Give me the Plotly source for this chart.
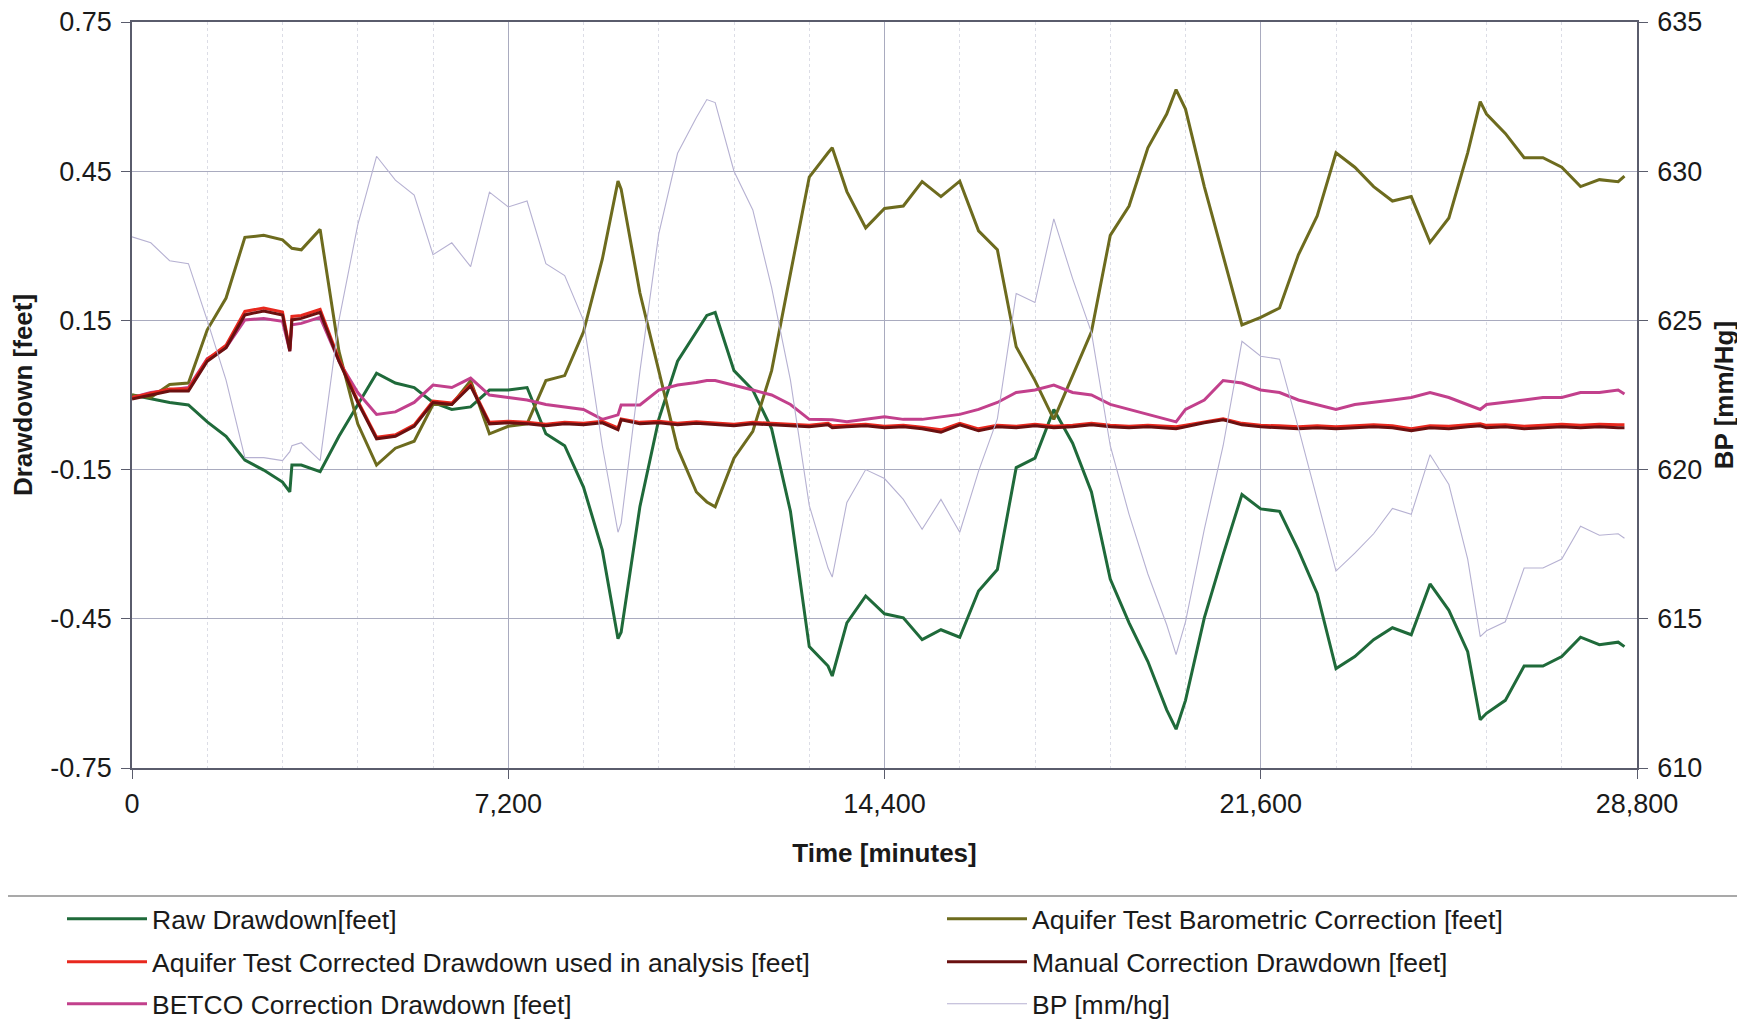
import plotly.graph_objects as go

# ---------------- data ----------------
time_min = [0, 360, 720, 1080, 1440, 1800, 2160, 2520, 2880,
            3020, 3060,
            3240, 3600, 3960, 4320, 4680, 5040, 5400, 5760, 6120, 6480, 6840, 7200, 7560, 7920, 8280, 8640, 9000,
            9300,
            9360, 9720, 10080, 10440, 10800,
            11000,
            11160, 11520, 11880, 12240, 12600, 12960, 13320,
            13400,
            13680, 14040, 14400, 14760, 15120, 15480, 15840, 16200, 16560, 16920, 17280, 17640, 18000, 18360, 18720, 19080, 19440, 19800,
            19980,
            20160, 20520, 20880, 21240, 21600, 21960, 22320, 22680, 23040, 23400, 23760, 24120, 24480, 24840, 25200, 25560,
            25800,
            25920, 26280, 26640, 27000, 27360, 27720, 28080, 28440,
            28560]

raw_drawdown = [0.0, -0.008, -0.015, -0.02, -0.054, -0.083, -0.131, -0.151, -0.175,
                -0.195, -0.141,
                -0.141, -0.154, -0.083, -0.019, 0.044, 0.024, 0.015, -0.015, -0.029, -0.024, 0.01, 0.01, 0.015, -0.078, -0.102, -0.185, -0.312,
                -0.49,
                -0.477, -0.224, -0.049, 0.068, 0.127,
                0.16,
                0.166, 0.049, 0.01, -0.068, -0.234, -0.506, -0.545,
                -0.565,
                -0.458, -0.404, -0.44, -0.448, -0.492, -0.472, -0.487, -0.394, -0.351, -0.146, -0.127, -0.029, -0.097, -0.195, -0.37, -0.458, -0.536, -0.633,
                -0.672,
                -0.614, -0.448, -0.321, -0.2, -0.229, -0.234, -0.312, -0.399, -0.55, -0.526, -0.492, -0.468, -0.482, -0.38, -0.433, -0.516,
                -0.653,
                -0.64, -0.614, -0.545, -0.545, -0.526, -0.487, -0.502, -0.497,
                -0.506]

baro_correction = [0.0, -0.005, 0.021, 0.024, 0.131, 0.195, 0.317, 0.321, 0.312,
                   0.30, 0.295,
                   0.292, 0.333, 0.088, -0.058, -0.141, -0.107, -0.093, -0.019, -0.019, 0.029, -0.078, -0.063, -0.058, 0.029, 0.039, 0.127, 0.273,
                   0.43,
                   0.414, 0.205, 0.049, -0.107, -0.195,
                   -0.215,
                   -0.225, -0.127, -0.073, 0.049, 0.244, 0.438, 0.487,
                   0.497,
                   0.409, 0.336, 0.375, 0.38, 0.429, 0.399, 0.43, 0.33, 0.292, 0.097, 0.029, -0.049, 0.039, 0.127, 0.321, 0.38, 0.497, 0.565,
                   0.614,
                   0.575, 0.419, 0.282, 0.141, 0.156, 0.175, 0.282, 0.36, 0.487, 0.458, 0.419, 0.39, 0.399, 0.307, 0.356, 0.487,
                   0.59,
                   0.565, 0.526, 0.477, 0.477, 0.458, 0.419, 0.433, 0.429,
                   0.44]

aquifer_corrected = [-0.005, 0.003, 0.012, 0.012, 0.072, 0.1, 0.168, 0.175, 0.167,
                     0.092, 0.158,
                     0.16, 0.172, 0.072, -0.012, -0.085, -0.08, -0.06, -0.012, -0.016, 0.021, -0.055, -0.053, -0.055, -0.059, -0.055, -0.057, -0.053,
                     -0.066,
                     -0.048, -0.055, -0.053, -0.057, -0.054,
                     -0.055,
                     -0.057, -0.059, -0.055, -0.057, -0.059, -0.061, -0.057,
                     -0.062,
                     -0.061, -0.059, -0.063, -0.061, -0.065, -0.07, -0.057, -0.068, -0.061, -0.063, -0.059, -0.063, -0.061, -0.057, -0.061, -0.063, -0.061, -0.063,
                     -0.064,
                     -0.061, -0.054, -0.048, -0.057, -0.061, -0.062, -0.064, -0.062, -0.064, -0.062, -0.06, -0.062, -0.068, -0.062, -0.063, -0.06,
                     -0.058,
                     -0.061, -0.06, -0.063, -0.061, -0.059, -0.061, -0.059, -0.06,
                     -0.06]

manual_correction = [-0.008, 0.0, 0.008, 0.008, 0.068, 0.095, 0.161, 0.169, 0.161,
                     0.088, 0.151,
                     0.154, 0.166, 0.068, -0.015, -0.088, -0.083, -0.063, -0.015, -0.019, 0.018, -0.058, -0.056, -0.058, -0.062, -0.058, -0.06, -0.056,
                     -0.07,
                     -0.05, -0.058, -0.056, -0.06, -0.057,
                     -0.058,
                     -0.06, -0.062, -0.058, -0.06, -0.062, -0.064, -0.06,
                     -0.066,
                     -0.064, -0.062, -0.066, -0.064, -0.068, -0.075, -0.06, -0.072, -0.064, -0.066, -0.062, -0.066, -0.064, -0.06, -0.064, -0.066, -0.064, -0.066,
                     -0.068,
                     -0.064, -0.056, -0.05, -0.06, -0.064, -0.066, -0.068, -0.066, -0.068, -0.066, -0.064, -0.066, -0.072, -0.066, -0.068, -0.064,
                     -0.062,
                     -0.066, -0.064, -0.068, -0.066, -0.064, -0.066, -0.064, -0.066,
                     -0.066]

betco_correction = [-0.005, 0.005, 0.01, 0.015, 0.073, 0.095, 0.151, 0.154, 0.148,
                    0.088, 0.141,
                    0.144, 0.156, 0.068, 0.005, -0.039, -0.034, -0.015, 0.02, 0.015, 0.034, 0.0, -0.005, -0.01, -0.019, -0.024, -0.029, -0.049,
                    -0.04,
                    -0.02, -0.02, 0.01, 0.02, 0.025,
                    0.029,
                    0.029, 0.02, 0.01, 0.0, -0.019, -0.049, -0.049,
                    -0.05,
                    -0.054, -0.049, -0.044, -0.049, -0.049, -0.044, -0.039, -0.029, -0.015, 0.005, 0.01, 0.02, 0.005, 0.0, -0.019, -0.029, -0.039, -0.049,
                    -0.054,
                    -0.029, -0.01, 0.029, 0.024, 0.01, 0.005, -0.01, -0.019, -0.029, -0.019, -0.015, -0.01, -0.005, 0.005, -0.005, -0.019,
                    -0.029,
                    -0.019, -0.015, -0.01, -0.005, -0.005, 0.005, 0.005, 0.01,
                    0.002]

bp_mmhg = [627.8, 627.6, 627.0, 626.9, 625.0, 623.0, 620.4, 620.4, 620.3,
           620.6, 620.8,
           620.9, 620.3, 625.0, 628.2, 630.5, 629.7, 629.2, 627.2, 627.6, 626.8, 629.3, 628.8, 629.0, 626.9, 626.5, 625.0, 620.8,
           617.9,
           618.2, 623.3, 627.9, 630.6, 631.8,
           632.4,
           632.3, 630.0, 628.7, 626.1, 623.0, 618.8, 616.7,
           616.4,
           618.9, 620.0, 619.7, 619.0, 618.0, 619.0, 617.9, 619.95, 621.7, 625.9, 625.6, 628.4, 626.4, 624.6, 620.8, 618.5, 616.5, 614.8,
           613.8,
           614.9, 618.0, 620.8, 624.3, 623.8, 623.7, 621.4, 619.0, 616.6, 617.2, 617.85, 618.7, 618.5, 620.5, 619.5, 617.0,
           614.4,
           614.6, 614.9, 616.7, 616.7, 617.0, 618.1, 617.8, 617.85,
           617.7]

x_tickvals = [0, 7200, 14400, 21600, 28800]
x_ticktext = ["0", "7,200", "14,400", "21,600", "28,800"]
y_tickvals = [-0.75, -0.45, -0.15, 0.15, 0.45, 0.75]
y_ticktext = ["-0.75", "-0.45", "-0.15", "0.15", "0.45", "0.75"]
y2_tickvals = [610, 615, 620, 625, 630, 635]

for s in (raw_drawdown, baro_correction, aquifer_corrected, manual_correction, betco_correction, bp_mmhg):
    assert len(s) == len(time_min), len(s)

# ---------------- figure ----------------
FONT = "Liberation Sans, Arial, sans-serif"
OFF = 8                       # page body margin in the browser
W, H = 1737, 1014
ML, MR, MT, MB = 124, 108, 14, 254
PW, PH = W - ML - MR, H - MT - MB

def sy(py):  # screen pixel y -> paper
    return (H - MB - (py - OFF)) / PH

def sx(px):  # screen pixel x -> paper
    return (px - OFF - ML) / PW

fig = go.Figure()

fig.add_trace(go.Scatter(x=time_min, y=bp_mmhg, name="BP [mm/hg]", yaxis="y2", mode="lines",
                         line=dict(color="#b6b1d2", width=1.1), legend="legend6"))
fig.add_trace(go.Scatter(x=time_min, y=raw_drawdown, name="Raw Drawdown[feet]", mode="lines",
                         line=dict(color="#1f6a3a", width=3), legend="legend"))
fig.add_trace(go.Scatter(x=time_min, y=baro_correction, name="Aquifer Test Barometric Correction [feet]", mode="lines",
                         line=dict(color="#6d6b1e", width=3), legend="legend2"))
fig.add_trace(go.Scatter(x=time_min, y=betco_correction, name="BETCO Correction Drawdown [feet]", mode="lines",
                         line=dict(color="#c2408c", width=3), legend="legend5"))
fig.add_trace(go.Scatter(x=time_min, y=aquifer_corrected, name="Aquifer Test Corrected Drawdown used in analysis [feet]", mode="lines",
                         line=dict(color="#e8281e", width=3), legend="legend3"))
fig.add_trace(go.Scatter(x=time_min, y=manual_correction, name="Manual Correction Drawdown [feet]", mode="lines",
                         line=dict(color="#6a1010", width=3), legend="legend4"))

grid_col = "#a9abbf"
axis_col = "#5a5c6c"
tick_font = dict(family=FONT, size=27, color="#1a1a1a")
title_font = dict(family=FONT, size=26, color="#1a1a1a", weight="bold")
legend_font = dict(family=FONT, size=26.5, color="#1a1a1a")

def legend_at(px, py):
    return dict(orientation="h", x=sx(px), xanchor="left", y=sy(py), yanchor="middle",
                font=legend_font, bgcolor="rgba(0,0,0,0)", itemwidth=80, visible=True)

COL1, COL2 = 62, 942
ROW1, ROW2, ROW3 = 919, 962, 1004

fig.update_layout(
    width=W, height=H,
    showlegend=True,
    margin=dict(l=ML, r=MR, t=MT, b=MB, autoexpand=False),
    paper_bgcolor="white", plot_bgcolor="white",
    font=dict(family=FONT, color="#1a1a1a"),
    xaxis=dict(range=[0, 28800], tickmode="array", tickvals=x_tickvals, ticktext=x_ticktext,
               tickfont=tick_font, showgrid=True, gridcolor=grid_col, gridwidth=1,
               showline=True, linecolor=axis_col, linewidth=1.5, mirror=True,
               ticks="outside", ticklen=9, tickcolor=axis_col, zeroline=False, ticklabelstandoff=2,
               ticklabeloverflow="allow",
               minor=dict(dtick=1440, tick0=0, showgrid=True, gridcolor="#dcdde6", griddash="dot", gridwidth=1),
               title=dict(text="Time [minutes]", font=title_font, standoff=26)),
    yaxis=dict(range=[-0.75, 0.75], tickmode="array", tickvals=y_tickvals, ticktext=y_ticktext,
               tickfont=tick_font, showgrid=True, gridcolor=grid_col, gridwidth=1,
               showline=True, linecolor=axis_col, linewidth=1.5,
               ticks="outside", ticklen=9, tickcolor=axis_col, zeroline=False, ticklabelstandoff=4,
               ticklabeloverflow="allow",
               title=dict(text="Drawdown [feet]", font=title_font, standoff=16)),
    yaxis2=dict(range=[610, 635], tickmode="array", tickvals=y2_tickvals, overlaying="y", side="right",
                tickfont=tick_font, showgrid=False, showline=True, linecolor=axis_col, linewidth=1.5,
                ticks="outside", ticklen=9, tickcolor=axis_col, zeroline=False, ticklabelstandoff=4,
                ticklabeloverflow="allow",
                title=dict(text="BP [mm/Hg]", font=title_font, standoff=14)),
    legend=legend_at(COL1, ROW1),
    legend2=legend_at(COL2, ROW1),
    legend3=legend_at(COL1, ROW2),
    legend4=legend_at(COL2, ROW2),
    legend5=legend_at(COL1, ROW3),
    legend6=legend_at(COL2, ROW3),
    shapes=[dict(type="line", xref="paper", yref="paper",
                 x0=sx(0), x1=sx(1745),
                 y0=sy(896), y1=sy(896),
                 line=dict(color="#8c8c8c", width=1.5))],
)

fig.write_html("out.html")
